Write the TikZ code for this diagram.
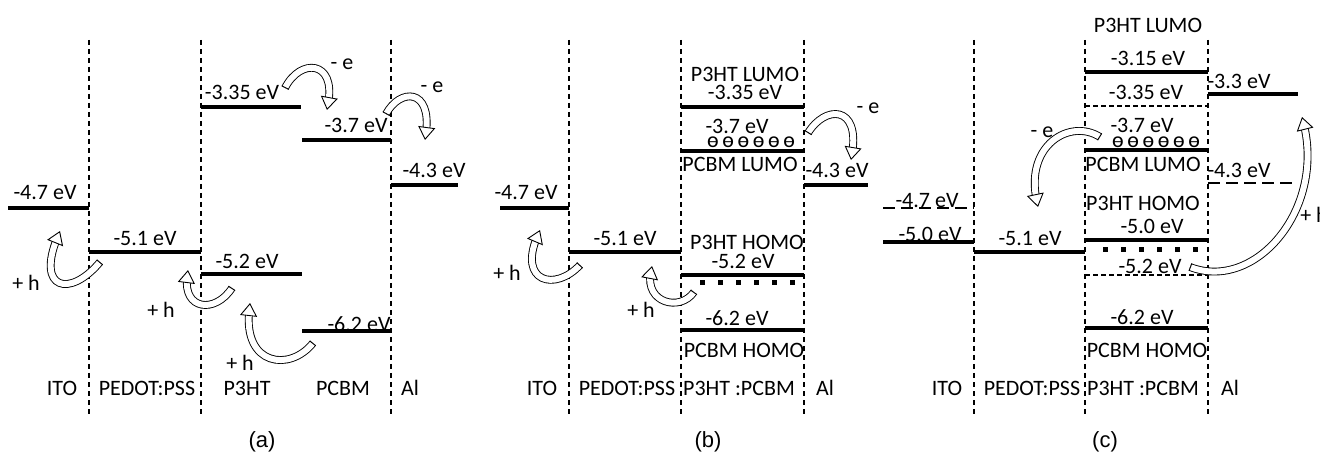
\documentclass[tikz,border=0pt]{standalone}
\usepackage{fontspec}
\setmainfont{Carlito}
\newfontfamily\capfont{Liberation Sans}
\usetikzlibrary{arrows.meta}

\tikzset{
    lvl/.style={line width=3.5pt},
    lvlthin/.style={line width=1.2pt, dash pattern=on 5pt off 3pt},
    lvlwide/.style={line width=1.5pt, dash pattern=on 12pt off 6pt},
    layersep/.style={line width=1.1pt, dash pattern=on 5pt off 4pt},
    holes/.style={line width=5pt, dash pattern=on 5pt off 13pt},
    shaft/.style={line width=0.9pt, double=white, double distance=6pt, shorten >=7pt},
    tiponly/.style={draw=white, line width=0.5pt,
        {Bar[width=7.8pt, line width=0.9pt, color=black]}-{Triangle[color=black, fill=white, width=17pt, length=13pt, line width=0.9pt]}},
    caption/.style={font=\capfont\fontsize{22}{26}\selectfont},
}
\newcommand{\harrow}[4]{%
    \draw[shaft] (#1) .. controls #2 and #3 .. (#4);
    \draw[tiponly] (#1) .. controls #2 and #3 .. (#4);
}

\begin{document}
\begin{tikzpicture}[x=1pt, y=-1pt, inner sep=1pt, font=\fontsize{22}{26}\selectfont]
    \useasboundingbox (0,0) rectangle (1320,454);

    % (a) separate layers
    \begin{scope}
        \draw[layersep] (89,40) -- (89,417);
        \draw[layersep] (201,40) -- (201,417);
        \draw[layersep] (391,40) -- (391,417);

        % Levels
        \draw[lvl] (8,208) -- (89,208);
        \draw[lvl] (89,252) -- (201,252);
        \draw[lvl] (201,107) -- (301,107);
        \draw[lvl] (302,140) -- (391,140);
        \draw[lvl] (201,274) -- (302,274);
        \draw[lvl] (302,331) -- (391,331);
        \draw[lvl] (391,185) -- (458,185);
        \node (itoA) at (45,193) {-4.7 eV};
        \node (pedotA) at (145,239) {-5.1 eV};
        \node (lumoPA) at (242,92) {-3.35 eV};
        \node (lumoCA) at (356,125) {-3.7 eV};
        \node (homoPA) at (247,261) {-5.2 eV};
        \node (homoCA) at (359,324) {-6.2 eV};
        \node (alA) at (434,170) {-4.3 eV};

        % Layers
        \node (itoNameA) at (62,388) {ITO};
        \node (pedotNameA) at (147,388) {PEDOT:PSS};
        \node (p3htNameA) at (247,388) {P3HT};
        \node (pcbmNameA) at (343,388) {PCBM};
        \node (alNameA) at (410,388) {Al};

        % Charge transfer
        \coordinate (eA1s) at (285,88);
        \coordinate (eA1t) at (327,110);
        \harrow{eA1s}{(300,58)}{(336,60)}{eA1t}
        \coordinate (eA2s) at (386,114);
        \coordinate (eA2t) at (425,140);
        \harrow{eA2s}{(400,88)}{(432,88)}{eA2t}
        \coordinate (hA1s) at (100,262);
        \coordinate (hA1t) at (60,231);
        \harrow{hA1s}{(70,298)}{(36,290)}{hA1t}
        \coordinate (hA2s) at (232,288);
        \coordinate (hA2t) at (188,270);
        \harrow{hA2s}{(215,314)}{(183,310)}{hA2t}
        \coordinate (hA3s) at (313,343);
        \coordinate (hA3t) at (250,303);
        \harrow{hA3s}{(290,372)}{(243,366)}{hA3t}
        \node (eA1) at (342,64) {- e};
        \node (eA2) at (432,87) {- e};
        \node (hA1) at (26,283) {+ h};
        \node (hA2) at (161,310) {+ h};
        \node (hA3) at (240,363) {+ h};

        \node[caption] (capA) at (262,442) {(a)};
    \end{scope}

    % (b) blend
    \begin{scope}[xshift=480pt]
        \draw[layersep] (89,40) -- (89,417);
        \draw[layersep] (201,40) -- (201,417);
        \draw[layersep] (324,40) -- (324,417);

        % Levels
        \draw[lvl] (20,208) -- (89,208);
        \draw[lvl] (89,252) -- (201,252);
        \draw[lvl] (201,107) -- (324,107);
        \draw[lvl] (201,151) -- (324,151);
        \draw[lvl] (201,275) -- (324,275);
        \draw[lvl] (201,330) -- (324,330);
        \draw[lvl] (324,185) -- (388,185);
        \draw[holes] (220,283) -- (315,283);
        \node (itoB) at (46,193) {-4.7 eV};
        \node (pedotB) at (145,239) {-5.1 eV};
        \node (lumoPNameB) at (265,74) {P3HT LUMO};
        \node (lumoPB) at (265,92) {-3.35 eV};
        \node (lumoCB) at (257,126) {-3.7 eV};
        \node (elecB) at (271,142) {ɵ\,ɵ\,ɵ\,ɵ\,ɵ\,ɵ};
        \node (lumoCNameB) at (260,164) {PCBM LUMO};
        \node (homoPNameB) at (267,242) {P3HT HOMO};
        \node (homoPB) at (263,261) {-5.2 eV};
        \node (homoCB) at (257,318) {-6.2 eV};
        \node (homoCNameB) at (264,350) {PCBM HOMO};
        \node (alB) at (357,170) {-4.3 eV};

        % Layers
        \node (itoNameB) at (62,388) {ITO};
        \node (pedotNameB) at (147,388) {PEDOT:PSS};
        \node (blendNameB) at (259,388) {P3HT :PCBM};
        \node (alNameB) at (345,388) {Al};

        % Charge transfer
        \coordinate (eB1s) at (328,133);
        \coordinate (eB1t) at (371,160);
        \harrow{eB1s}{(345,105)}{(380,105)}{eB1t}
        \coordinate (hB1s) at (100,265);
        \coordinate (hB1t) at (60,230);
        \harrow{hB1s}{(75,292)}{(38,282)}{hB1t}
        \coordinate (hB2s) at (214,292);
        \coordinate (hB2t) at (172,266);
        \harrow{hB2s}{(200,312)}{(165,303)}{hB2t}
        \node (eB1) at (388,108) {- e};
        \node (hB1) at (27,273) {+ h};
        \node (hB2) at (161,310) {+ h};

        \node[caption] (capB) at (228,442) {(b)};
    \end{scope}

    % (c) shifted levels
    \begin{scope}[xshift=885pt]
        \draw[layersep] (89,40) -- (89,417);
        \draw[layersep] (200,40) -- (200,417);
        \draw[layersep] (323,40) -- (323,417);

        % Levels
        \draw[lvlwide] (-2,208) -- (89,208);
        \draw[lvl] (-2,242) -- (89,242);
        \draw[lvl] (89,252) -- (200,252);
        \draw[lvl] (200,72) -- (323,72);
        \draw[lvlthin] (200,106) -- (323,106);
        \draw[lvl] (200,150) -- (323,150);
        \draw[lvl] (200,240) -- (323,240);
        \draw[lvlthin] (200,275) -- (323,275);
        \draw[lvl] (200,328) -- (323,328);
        \draw[lvl] (323,94) -- (413,94);
        \draw[lvlwide] (323,183) -- (412,183);
        \draw[holes] (218,250) -- (313,250);
        \node (itoC) at (42,201) {-4.7 eV};
        \node (itoShiftC) at (45,234) {-5.0 eV};
        \node (pedotC) at (145,239) {-5.1 eV};
        \node (lumoPNameC) at (263,25) {P3HT LUMO};
        \node (lumoPShiftC) at (263,58) {-3.15 eV};
        \node (lumoPC) at (261,92) {-3.35 eV};
        \node (lumoCC) at (257,125) {-3.7 eV};
        \node (elecC) at (271,142) {ɵ\,ɵ\,ɵ\,ɵ\,ɵ\,ɵ};
        \node (lumoCNameC) at (258,164) {PCBM LUMO};
        \node (homoPNameC) at (258,203) {P3HT HOMO};
        \node (homoPShiftC) at (267,226) {-5.0 eV};
        \node (homoPC) at (265,266) {-5.2 eV};
        \node (homoCC) at (257,317) {-6.2 eV};
        \node (homoCNameC) at (262,350) {PCBM HOMO};
        \node (alShiftC) at (354,81) {-3.3 eV};
        \node (alC) at (354,170) {-4.3 eV};

        % Layers
        \node (itoNameC) at (62,388) {ITO};
        \node (pedotNameC) at (147,388) {PEDOT:PSS};
        \node (blendNameC) at (258,388) {P3HT :PCBM};
        \node (alNameC) at (345,388) {Al};

        % Charge transfer
        \coordinate (eC1s) at (215,137);
        \coordinate (eC1t) at (153,207);
        \harrow{eC1s}{(185,118)}{(140,145)}{eC1t}
        \coordinate (hC1s) at (305,267);
        \coordinate (hC1t) at (417,117);
        \harrow{hC1s}{(370,292)}{(440,210)}{hC1t}
        \node (eC1) at (157,132) {- e};
        \node (hC1) at (429,215) {+ h};

        \node[caption] (capC) at (220,442) {(c)};
    \end{scope}
\end{tikzpicture}
\end{document}
